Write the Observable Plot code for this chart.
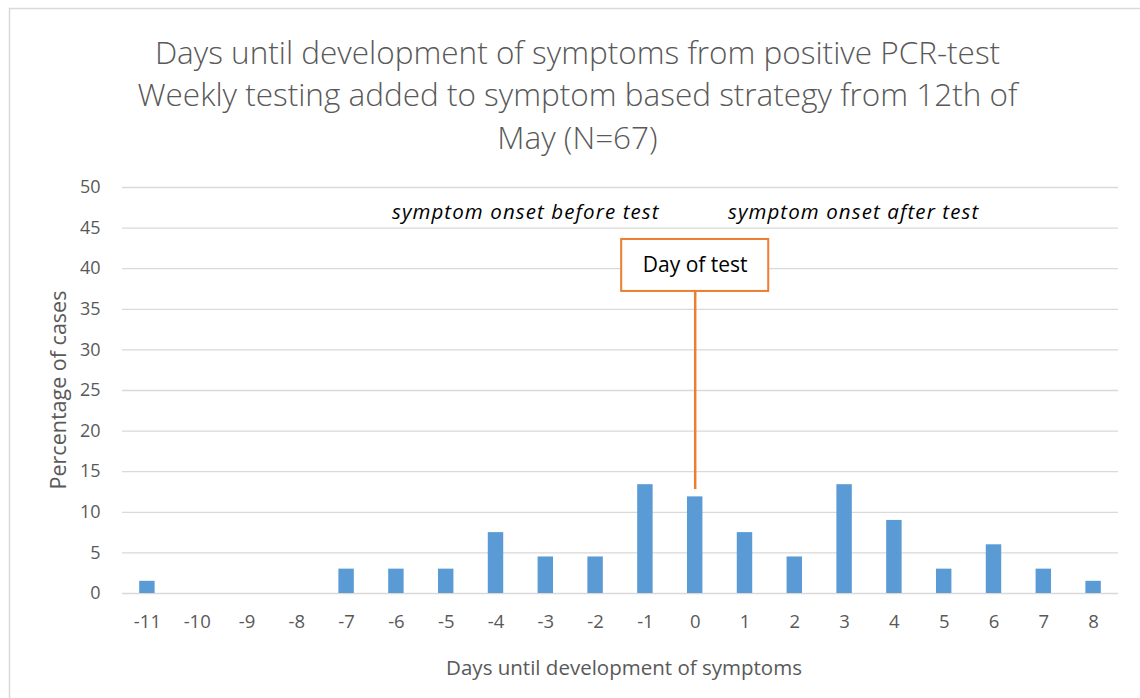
<!DOCTYPE html>
<html>
<head>
<meta charset="utf-8">
<script src="https://cdn.jsdelivr.net/npm/d3@7"></script>
<script src="https://cdn.jsdelivr.net/npm/@observablehq/plot@0.6"></script>
<style>
  html, body { margin: 0; padding: 0; background: #fff; }
  #chart svg { display: block; }
</style>
</head>
<body>
<div id="chart"></div>
<script>
const days = [-11, -10, -9, -8, -7, -6, -5, -4, -3, -2, -1, 0, 1, 2, 3, 4, 5, 6, 7, 8];
const percentages = [1.5, 0, 0, 0, 3.0, 3.0, 3.0, 7.5, 4.5, 4.5, 13.4, 11.9, 7.5, 4.5, 13.4, 9.0, 3.0, 6.0, 3.0, 1.5];
const yTicks = [0, 5, 10, 15, 20, 25, 30, 35, 40, 45, 50];
const titleLines = [
  "Days until development of symptoms from positive PCR-test",
  "Weekly testing added to symptom based strategy from 12th of",
  "May (N=67)"
];
const xLabel = "Days until development of symptoms";
const yLabel = "Percentage of cases";
const beforeLabel = "symptom onset before test";
const afterLabel = "symptom onset after test";
const boxLabel = "Day of test";

const data = days.map((d, i) => ({day: d, pct: percentages[i]}));

const W = 1140, H = 698;
const mL = 122, mR = 22, mT = 187, mB = 105;
const FONT = "'Open Sans', Lato, sans-serif";

const plot = Plot.plot({
  width: W,
  height: H,
  marginLeft: mL,
  marginRight: mR,
  marginTop: mT,
  marginBottom: mB,
  style: {fontFamily: FONT, background: "#fff", overflow: "visible"},
  x: {type: "band", domain: days, paddingInner: 0.69, paddingOuter: 0.345, round: false, label: null},
  y: {domain: [0, 50], label: null},
  marks: [
    Plot.ruleY(yTicks.filter(t => t > 0), {stroke: "#d9d9d9", strokeWidth: 1.3}),
    Plot.ruleY([0], {stroke: "#d9d9d9", strokeWidth: 1.5}),
    Plot.axisY({ticks: yTicks, tickSize: 0, tickPadding: 22, fontSize: 18, color: "#595959", label: null}),
    Plot.axisX({tickSize: 0, tickPadding: 21, fontSize: 18.5, color: "#595959", label: null}),
    Plot.barY(data, {x: "day", y: "pct", fill: "#5b9bd5"}),
    Plot.ruleX([0], {y1: 12.8, y2: 37.2, stroke: "#ed7d31", strokeWidth: 2.5}),
    Plot.barY([0], {x: d => d, y1: 37.2, y2: 43.6, fill: "#fff", stroke: "#ed7d31", strokeWidth: 2, insetLeft: -65.8, insetRight: -65.8}),
    Plot.text([boxLabel], {x: () => 0, y: 40.4, fontSize: 21, fill: "#000", className: "boxlab"}),
    Plot.text([beforeLabel], {x: () => -3, y: 46.9, dx: -20, fontSize: 20.5, fontStyle: "italic", fill: "#000", className: "note"}),
    Plot.text([afterLabel], {x: () => 3, y: 46.9, dx: 9, fontSize: 20.5, fontStyle: "italic", fill: "#000", className: "note"}),
    Plot.text(titleLines, {frameAnchor: "top", text: d => d, fontSize: 31.5, fill: "#595959", fontWeight: 300}),
  ]
});

document.getElementById("chart").appendChild(plot);

const svg = d3.select(plot);
svg.selectAll("text").filter(function() { return titleLines.includes(this.textContent); })
  .each(function() {
    const i = titleLines.indexOf(this.textContent);
    d3.select(this).attr("transform", null).attr("x", 577).attr("y", 52 + i * 42.5)
      .attr("dy", "0.35em").attr("text-anchor", "middle");
  });
svg.selectAll("g.note text").attr("letter-spacing", 1.1);
svg.append("text")
  .attr("x", 624).attr("y", 668).attr("dy", "0.35em")
  .attr("text-anchor", "middle").attr("font-size", 20.5).attr("fill", "#595959")
  .attr("font-family", FONT)
  .text(xLabel);
svg.append("text")
  .attr("transform", "translate(58,390) rotate(-90)").attr("dy", "0.35em")
  .attr("text-anchor", "middle").attr("font-size", 21.5).attr("fill", "#595959")
  .attr("font-family", FONT)
  .text(yLabel);
svg.append("path")
  .attr("d", "M9.5,698 V8.5 H1140")
  .attr("fill", "none").attr("stroke", "#d9d9d9").attr("stroke-width", 1.5);
</script>
</body>
</html>
